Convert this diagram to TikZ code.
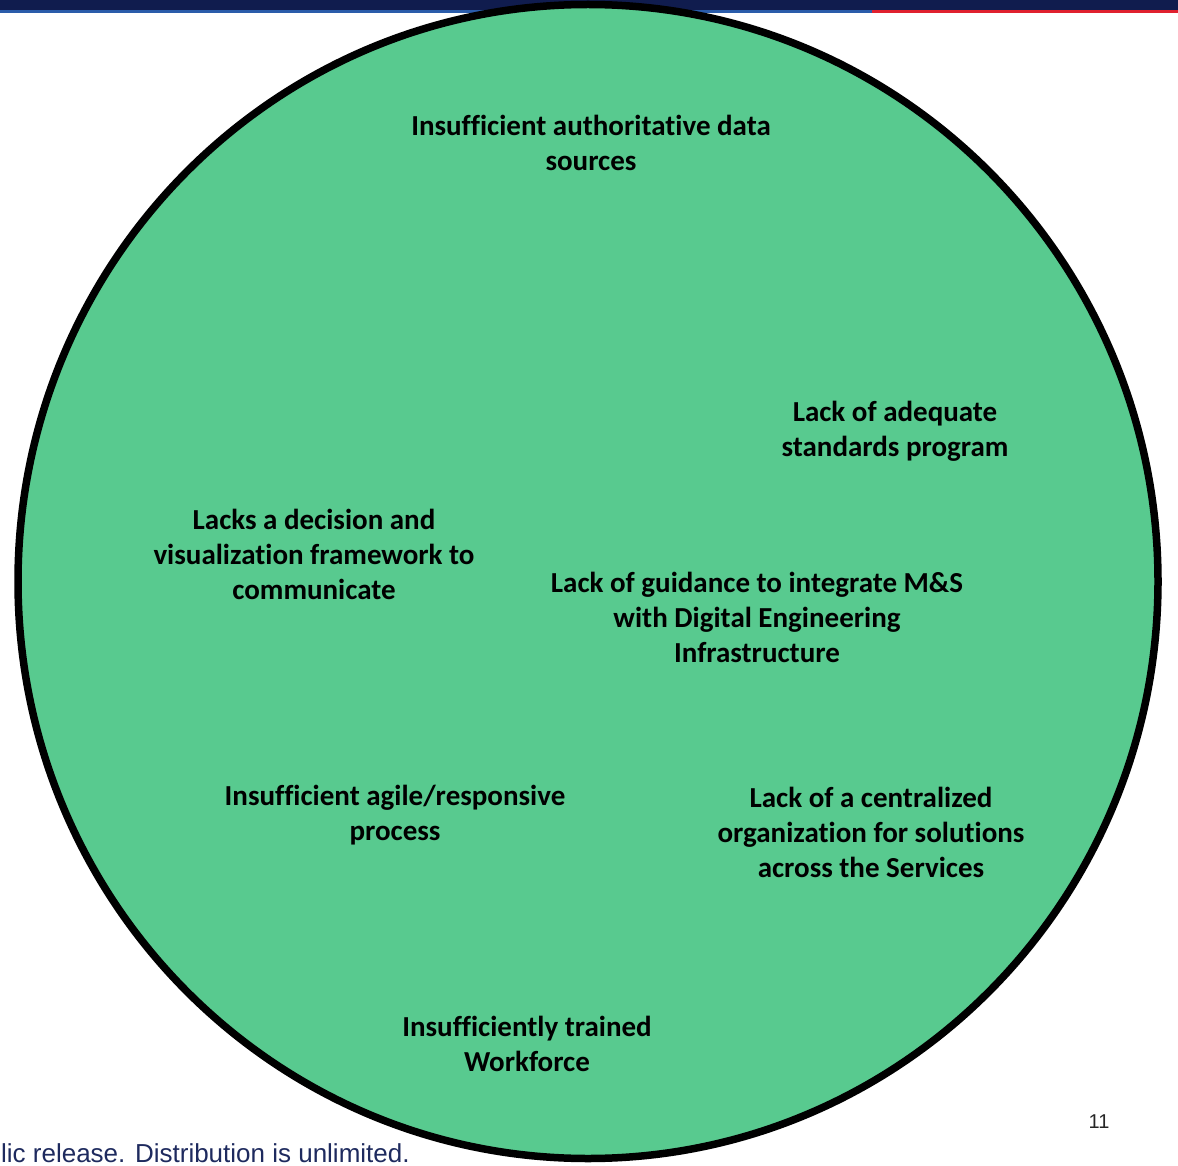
\documentclass[tikz,border=0pt]{standalone}
\usepackage{fontspec}
\setmainfont[Ligatures=NoCommon]{Carlito}
\newfontfamily\footfont{Liberation Sans}
\begin{document}
\definecolor{navybar}{HTML}{101C4E}
\definecolor{bluebar}{HTML}{2A5CAA}
\definecolor{redbar}{HTML}{E0202E}
\definecolor{leafgreen}{HTML}{58CA8F}
\definecolor{foottext}{HTML}{1E2A5E}
\begin{tikzpicture}[x=1pt,y=-1pt,
  issue/.style={align=center,font=\bfseries\fontsize{29}{35}\selectfont,text=black,inner sep=0pt}]
\useasboundingbox (0,0) rectangle (1178,1166);
% header bars
\fill[navybar] (0,0) rectangle (1178,10);
\fill[bluebar] (0,10) rectangle (872,13);
\fill[redbar] (872,10) rectangle (1178,13);
% footer
\node[anchor=base west,inner sep=0pt,font=\footfont\fontsize{26}{28}\selectfont,text=foottext] (foot) at (1,1162) {lic release. Distribution is unlimited.};
\node[anchor=base,inner sep=0pt,font=\footfont\fontsize{20}{22}\selectfont,text=black!85] (pagenum) at (1099,1128) {11};
% the circle of issues
\draw[line width=7.5pt,fill=leafgreen] (588,581.5) ellipse [x radius=570, y radius=577];
\node[issue] (data) at (591,143) {Insufficient authoritative data\\sources};
\node[issue] (standards) at (895,431) {Lack of adequate\\standards program};
\node[issue] (framework) at (314,554) {Lacks a decision and\\visualization framework to\\communicate};
\node[issue] (guidance) at (757,617) {Lack of guidance to integrate M\&S\\with Digital Engineering\\Infrastructure};
\node[issue] (agile) at (395,815) {Insufficient agile/responsive\\process};
\node[issue] (central) at (871,832) {Lack of a centralized\\organization for solutions\\across the Services};
\node[issue] (workforce) at (527,1044) {Insufficiently trained\\Workforce};
\end{tikzpicture}
\end{document}
